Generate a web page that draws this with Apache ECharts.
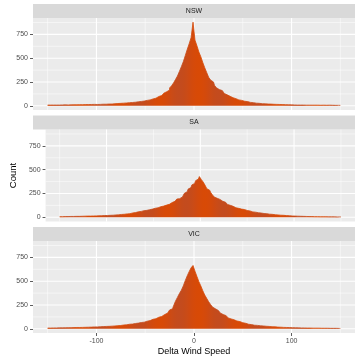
<!DOCTYPE html>
<html><head><meta charset="utf-8">
<script src="https://cdn.jsdelivr.net/npm/echarts@6/dist/echarts.min.js"></script>
<style>html,body{margin:0;padding:0;background:#fff}#c{width:360px;height:360px}</style>
</head><body><div id="c"></div>
<script>
// ---- data ----
const panels = ['NSW', 'SA', 'VIC'];
const binStart = -150;   // centre of the first bin
const binWidth = 2;
const nsw = [
  8,8,7,8,8,9,8,9,9,10,
  9,10,10,11,10,11,12,11,12,13,
  12,13,14,13,15,14,16,15,17,18,
  17,19,20,19,22,21,24,26,25,28,
  30,29,33,35,34,38,42,41,46,50,
  54,57,62,67,72,80,90,98,108,118,
  132,148,165,188,210,240,275,312,360,410,
  462,525,590,650,715,878,690,630,565,515,
  455,400,350,300,270,250,215,190,170,160,
  140,130,115,100,92,85,75,68,62,57,
  52,48,44,40,36,33,30,28,26,24,
  22,21,20,19,18,17,16,15,15,14,
  13,12,12,11,10,10,9,9,8,8,
  8,8,7,8,7,7,8,7,7,7,
  6,7,6,6,7,6,6,5,6,5,
  5
];
const sa = [
  7,7,8,8,8,9,9,9,10,10,
  10,11,11,12,12,13,13,14,14,15,
  16,16,17,18,19,19,20,21,22,24,
  25,26,28,30,32,34,36,38,42,46,
  50,54,58,62,66,70,73,76,80,86,
  90,95,100,106,112,118,122,128,136,145,
  155,168,176,192,196,214,226,252,268,296,
  312,340,356,385,402,428,398,372,338,300,
  285,262,235,212,200,188,176,168,158,148,
  135,126,116,106,100,94,90,86,82,78,
  72,67,62,57,54,51,48,45,42,40,
  38,35,33,31,29,27,25,24,22,21,
  19,18,17,15,14,13,12,12,11,10,
  10,9,9,8,8,8,7,7,7,6,
  6,6,6,5,5,5,5,5,4,4,
  4
];
const vic = [
  8,8,9,9,9,10,10,10,11,11,
  12,12,12,13,13,14,14,15,15,16,
  17,17,18,19,20,20,21,22,23,24,
  25,26,27,28,30,31,33,35,37,40,
  42,45,48,50,53,56,60,63,66,70,
  75,80,86,92,100,106,114,122,130,140,
  150,165,180,198,210,240,290,330,370,405,
  450,505,555,600,640,665,605,550,495,450,
  400,355,320,285,255,228,210,192,178,165,
  150,138,125,114,104,95,88,82,76,70,
  64,58,53,48,44,41,38,36,34,32,
  30,28,27,25,23,22,21,20,18,17,
  16,15,14,13,13,12,11,11,10,10,
  9,9,9,8,8,8,7,7,7,7,
  6,6,6,6,5,5,5,5,5,4,
  4
];
const panelValues = [nsw, sa, vic];
const yTicks = [0, 250, 500, 750];
const yMinor = [125, 375, 625, 875];
const xTicks = [-100, 0, 100];
const xMinor = [-150, -50, 50, 150];
const xTitle = 'Delta Wind Speed';
const yTitle = 'Count';

// ---- layout / style ----
const FONT = 'Liberation Sans, Arial, Helvetica, sans-serif';
const L = 33, W = 322, H = 92, STRIP = 14;
const tops = [18, 129.5, 241];
const xMin = -165, xMax = 165, yMin = -44, yMax = 922;

function mix(a, b, t) {
  return 'rgb(' + a.map((v, i) => Math.round(v + (b[i] - v) * t)).join(',') + ')';
}
const bright = [216, 74, 6], dark = [190, 75, 36];
function barColor(x) {
  const t = 0.5 * (1 + Math.cos(2 * Math.PI * (x + 15) / 40));
  return mix(bright, dark, 0.8 * t);
}
function fillGradient(xs) {
  const a = xs[0], b = xs[xs.length - 1];
  const stops = [];
  for (let x = a; x <= b; x += 2.5) stops.push({ offset: (x - a) / (b - a), color: barColor(x) });
  return new echarts.graphic.LinearGradient(0, 0, 1, 0, stops);
}

function hLine(width) {
  return function (params, api) {
    const cs = params.coordSys;
    const y = api.coord([0, api.value(1)])[1];
    return { type: 'line', shape: { x1: cs.x, y1: y, x2: cs.x + cs.width, y2: y },
      style: { stroke: '#ffffff', lineWidth: width } };
  };
}
function vLine(width) {
  return function (params, api) {
    const cs = params.coordSys;
    const x = api.coord([api.value(0), 0])[0];
    return { type: 'line', shape: { x1: x, y1: cs.y, x2: x, y2: cs.y + cs.height },
      style: { stroke: '#ffffff', lineWidth: width } };
  };
}

const grid = [], xAxis = [], yAxis = [], series = [], graphic = [];
panels.forEach((name, i) => {
  const last = i === panels.length - 1;
  grid.push({ left: L, width: W, top: tops[i], height: H, show: true,
    backgroundColor: '#EBEBEB', borderWidth: 0 });
  xAxis.push({
    type: 'value', gridIndex: i, min: xMin, max: xMax, position: 'bottom',
    axisLine: { show: false, onZero: false }, splitLine: { show: false },
    axisTick: { show: last, customValues: xTicks, length: 3, lineStyle: { color: '#333333', width: 0.8 } },
    axisLabel: { show: last, customValues: xTicks, color: '#4D4D4D', fontSize: 7, fontFamily: FONT, margin: 5 },
    name: last ? xTitle : null, nameLocation: 'middle', nameGap: 14,
    nameTextStyle: { color: '#000000', fontSize: 9, fontFamily: FONT }
  });
  yAxis.push({
    type: 'value', gridIndex: i, min: yMin, max: yMax, position: 'left',
    axisLine: { show: false, onZero: false }, splitLine: { show: false },
    axisTick: { show: true, customValues: yTicks, length: 3, lineStyle: { color: '#333333', width: 0.8 } },
    axisLabel: { customValues: yTicks, color: '#4D4D4D', fontSize: 7, fontFamily: FONT, margin: 5 },
    name: i === 1 ? yTitle : null, nameLocation: 'middle', nameRotate: 90, nameGap: 18,
    nameTextStyle: { color: '#000000', fontSize: 9.5, fontFamily: FONT }
  });
  series.push({ type: 'custom', xAxisIndex: i, yAxisIndex: i, silent: true, z: 1,
    renderItem: hLine(0.5), data: yMinor.map(v => [0, v]) });
  series.push({ type: 'custom', xAxisIndex: i, yAxisIndex: i, silent: true, z: 1,
    renderItem: vLine(0.5), data: xMinor.map(v => [v, 0]) });
  series.push({ type: 'custom', xAxisIndex: i, yAxisIndex: i, silent: true, z: 1,
    renderItem: hLine(1.1), data: yTicks.map(v => [0, v]) });
  series.push({ type: 'custom', xAxisIndex: i, yAxisIndex: i, silent: true, z: 1,
    renderItem: vLine(1.1), data: xTicks.map(v => [v, 0]) });
  const pts = panelValues[i].map((v, k) => [binStart + k * binWidth, v]);
  const grad = fillGradient(pts.map(p => p[0]));
  series.push({ type: 'line', name: name, xAxisIndex: i, yAxisIndex: i, z: 3,
    step: 'middle', showSymbol: false, symbol: 'none', silent: true,
    lineStyle: { width: 0.8, color: grad },
    areaStyle: { color: grad, opacity: 1, origin: 0 },
    data: pts });
  graphic.push({ type: 'rect', shape: { x: L, y: tops[i] - STRIP, width: W, height: STRIP },
    style: { fill: '#D9D9D9' }, silent: true });
  graphic.push({ type: 'text', x: L + W / 2, y: tops[i] - STRIP / 2,
    style: { text: name, fill: '#1A1A1A', font: '7px ' + FONT,
      align: 'center', verticalAlign: 'middle', textAlign: 'center', textVerticalAlign: 'middle' },
    silent: true });
});

const chart = echarts.init(document.getElementById('c'), null, { renderer: 'canvas' });
chart.setOption({
  animation: false,
  backgroundColor: '#ffffff',
  grid, xAxis, yAxis, series, graphic
});
</script>
</body></html>
